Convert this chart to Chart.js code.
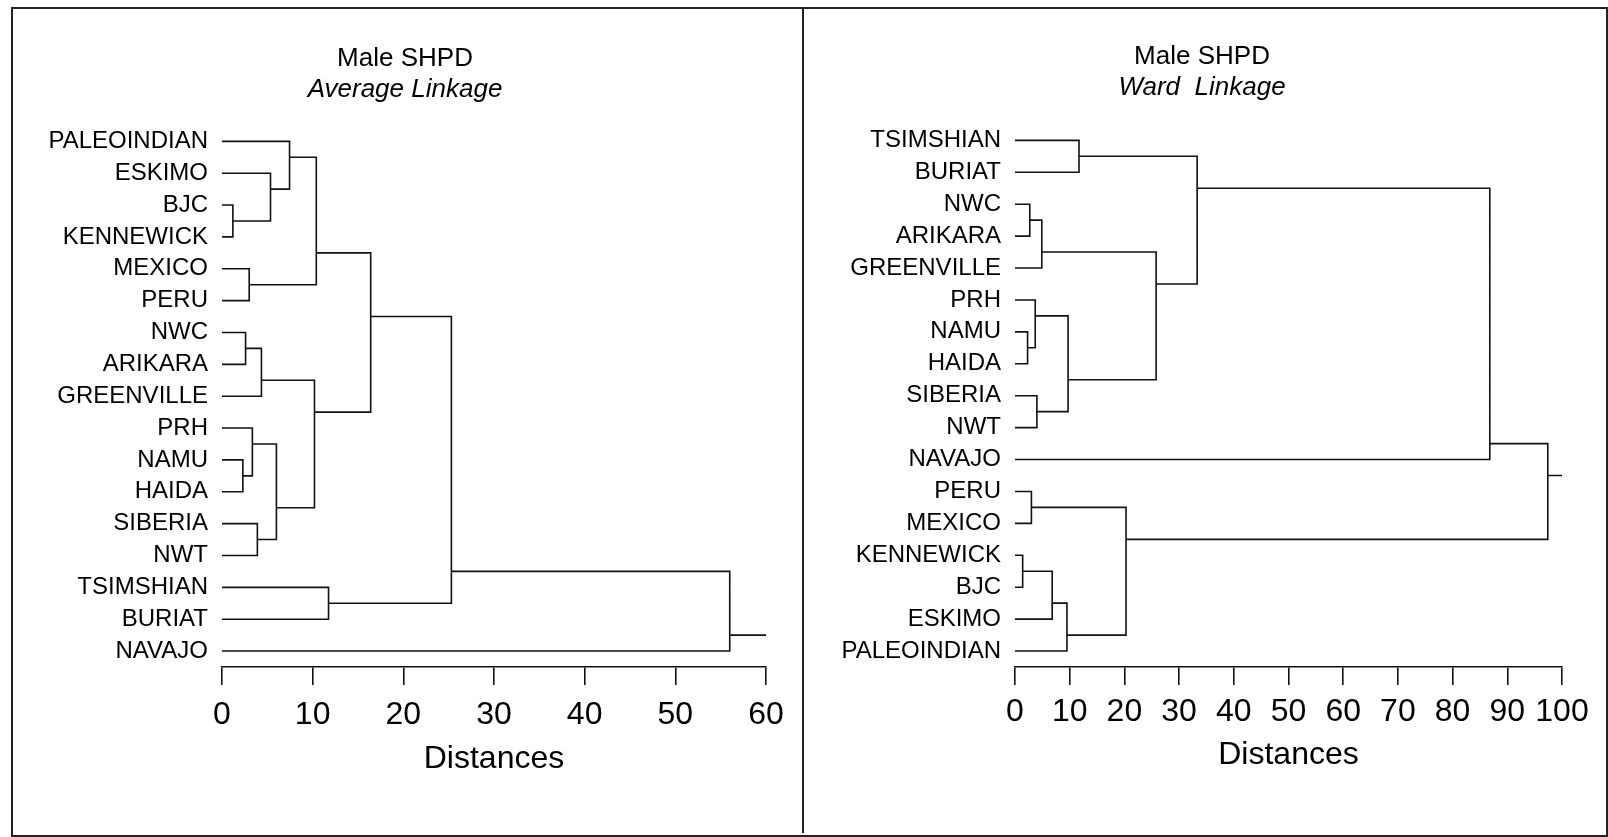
<!DOCTYPE html>
<html>
<head>
<meta charset="utf-8">
<script src="https://cdn.jsdelivr.net/npm/chart.js@4"></script>
<style>
  body { margin: 0; background: #fff; }
  .frame { position: absolute; border: 2px solid #222; }
  .panel { position: absolute; }
</style>
</head>
<body>
<div class="frame" style="left:11px;top:7px;width:1593px;height:826px;"></div>
<div class="frame" style="left:802px;top:7px;width:0;height:826px;border-width:0 0 0 2px;"></div>
<div class="panel" style="left:14px;top:10px;width:788px;height:824px;"><canvas id="avgChart"></canvas></div>
<div class="panel" style="left:805px;top:10px;width:800px;height:824px;"><canvas id="wardChart"></canvas></div>
<script>
// leaf order, top to bottom, as printed
const avgLeaves = ["PALEOINDIAN", "ESKIMO", "BJC", "KENNEWICK", "MEXICO", "PERU", "NWC", "ARIKARA",
  "GREENVILLE", "PRH", "NAMU", "HAIDA", "SIBERIA", "NWT", "TSIMSHIAN", "BURIAT", "NAVAJO"];
// merges: ids 0-16 are leaves, each merge k gets id 17+k
const avgLeft = [2, 1, 0, 4, 19, 6, 22, 10, 9, 12, 25, 23, 21, 14, 29, 31];
const avgRight = [3, 17, 18, 5, 20, 7, 8, 11, 24, 13, 26, 27, 28, 15, 30, 16];
const avgHeight = [1.2, 5.35, 7.45, 3.0, 10.4, 2.6, 4.35, 2.3, 3.35, 3.9, 6.0, 10.2, 16.4, 11.75, 25.3, 56.0];

const wardLeaves = ["TSIMSHIAN", "BURIAT", "NWC", "ARIKARA", "GREENVILLE", "PRH", "NAMU", "HAIDA",
  "SIBERIA", "NWT", "NAVAJO", "PERU", "MEXICO", "KENNEWICK", "BJC", "ESKIMO", "PALEOINDIAN"];
const wardLeft = [0, 2, 18, 6, 5, 8, 21, 19, 17, 25, 11, 13, 28, 29, 27, 26];
const wardRight = [1, 3, 4, 7, 20, 9, 22, 23, 24, 10, 12, 14, 15, 16, 30, 31];
const wardHeight = [11.7, 2.7, 4.9, 2.3, 3.7, 4.0, 9.7, 25.8, 33.3, 86.8, 3.0, 1.4, 6.8, 9.5, 20.3, 97.4];

const avgTicks = [0, 10, 20, 30, 40, 50, 60];
const wardTicks = [0, 10, 20, 30, 40, 50, 60, 70, 80, 90, 100];

// turn the merges into elbow lines (x = distance, y = leaf row)
function dendroLines(leaves, left, right, height, xMax) {
  const nodes = leaves.map((n, i) => ({ x: 0, y: i, lo: i }));
  const pts = [];
  for (let k = 0; k < height.length; k++) {
    const a = nodes[left[k]], b = nodes[right[k]];
    const h = height[k];
    const lower = a.lo > b.lo ? a : b;
    pts.push({ x: a.x, y: a.y }, { x: h, y: a.y }, { x: h, y: b.y }, { x: b.x, y: b.y }, { x: null, y: null });
    nodes.push({ x: h, y: lower.lo - 0.5, lo: Math.min(a.lo, b.lo) });
  }
  const root = nodes[nodes.length - 1];
  pts.push({ x: root.x, y: root.y }, { x: xMax, y: root.y });
  return pts;
}

const FONT = "'Liberation Sans', Arial, sans-serif";

function makeChart(id, leaves, left, right, height, ticks, sub, opt) {
  const xMax = ticks[ticks.length - 1];
  return new Chart(document.getElementById(id).getContext("2d"), {
    type: "scatter",
    data: {
      datasets: [
        {
          data: dendroLines(leaves, left, right, height, xMax),
          showLine: true,
          spanGaps: false,
          borderColor: "#111",
          borderWidth: 1.6,
          pointRadius: 0,
          clip: false,
        },
      ],
    },
    options: {
      responsive: true,
      maintainAspectRatio: false,
      animation: false,
      layout: { padding: { left: opt.padLeft, right: opt.padRight, top: 0, bottom: opt.padBottom } },
      plugins: {
        legend: { display: false },
        tooltip: { enabled: false },
        title: {
          display: true,
          text: "Male SHPD",
          color: "#000",
          font: { family: FONT, size: 26, weight: "normal" },
          padding: { top: opt.titleTop, bottom: 0 },
        },
        subtitle: {
          display: true,
          text: sub,
          color: "#000",
          font: { family: FONT, size: 26, style: "italic" },
          padding: { top: 0, bottom: opt.subBottom },
        },
      },
      scales: {
        x: {
          type: "linear",
          min: 0,
          max: xMax,
          afterBuildTicks: (s) => { s.ticks = ticks.map((v) => ({ value: v })); },
          afterFit: (s) => { s.height = 120; },
          grid: { display: true, drawOnChartArea: false, drawTicks: true, tickLength: 18, color: "#111", lineWidth: 1.6 },
          border: { display: true, color: "#111", width: 1.6 },
          ticks: { color: "#000", padding: opt.tickPad, autoSkip: false, font: { family: FONT, size: 32 }, maxRotation: 0 },
          title: {
            display: true,
            text: "Distances",
            color: "#000",
            font: { family: FONT, size: 32 },
            padding: { top: 0, bottom: opt.titleBottom },
          },
        },
        y: {
          type: "linear",
          reverse: true,
          min: -0.5,
          max: leaves.length - 0.5,
          afterBuildTicks: (s) => { s.ticks = leaves.map((n, i) => ({ value: i })); },
          afterFit: (s) => { s.width = opt.yWidth; },
          grid: { display: false, drawTicks: false },
          border: { display: false },
          ticks: {
            color: "#000",
            padding: 14,
            autoSkip: false,
            font: { family: FONT, size: 24 },
            callback: (v) => leaves[v],
          },
        },
      },
    },
  });
}

makeChart("avgChart", avgLeaves, avgLeft, avgRight, avgHeight, avgTicks, "Average Linkage",
  { padLeft: 30, padRight: 36, padBottom: 47, titleTop: 33, subBottom: 20, tickPad: 11, titleBottom: 9, yWidth: 178 });
makeChart("wardChart", wardLeaves, wardLeft, wardRight, wardHeight, wardTicks, "Ward  Linkage",
  { padLeft: 37, padRight: 43, padBottom: 47, titleTop: 31, subBottom: 21, tickPad: 8, titleBottom: 13, yWidth: 173 });
</script>
</body>
</html>
